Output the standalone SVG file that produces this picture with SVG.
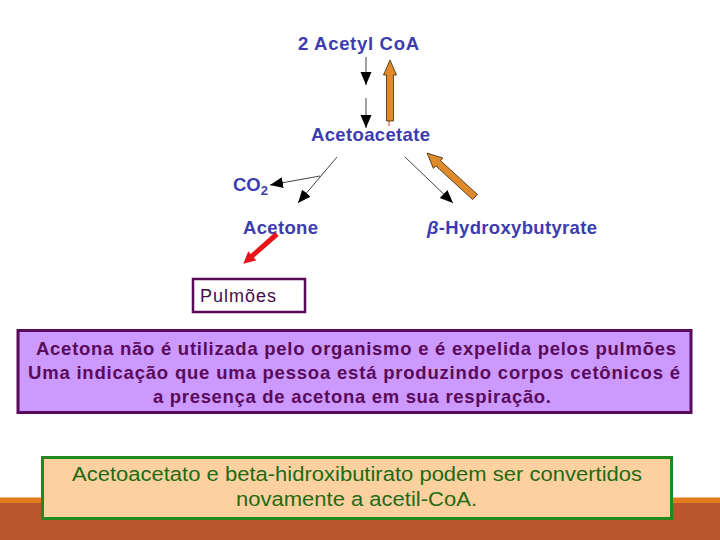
<svg xmlns="http://www.w3.org/2000/svg" width="720" height="540" viewBox="0 0 720 540">
<style>
.bl{font-family:"Liberation Sans",Arial,sans-serif;font-weight:bold;font-size:18.5px;fill:#3c3cb0}
.pt{font-family:"Liberation Sans",Arial,sans-serif;font-weight:bold;font-size:18.5px;fill:#5a0a5a}
.gt{font-family:"Liberation Sans",Arial,sans-serif;font-size:20.5px;fill:#1f6a12}
.thin{stroke:#444;stroke-width:1;fill:none;marker-end:url(#ah)}
.fat{fill:#e08a2a;stroke:#3a2a10;stroke-width:0.8}
</style>
<defs>
<marker id="ah" markerUnits="userSpaceOnUse" markerWidth="14" markerHeight="12" refX="13" refY="5.5" orient="auto">
<path d="M0,0 L13,5.5 L0,11 z" fill="#000"/>
</marker>
</defs>
<rect width="720" height="540" fill="#fff"/>
<rect x="0" y="497.5" width="720" height="6" fill="#e07c1c"/>
<rect x="0" y="503" width="720" height="37" fill="#b8562c"/>

<g id="acetylcoa"><text class="bl" x="298" y="50" textLength="121" lengthAdjust="spacing">2 Acetyl CoA</text></g>
<g id="acetoacetate"><text class="bl" x="311" y="141" textLength="119" lengthAdjust="spacing">Acetoacetate</text></g>
<g id="co2"><text class="bl" x="233" y="191" font-size="18.5">CO<tspan font-size="13" dy="4">2</tspan></text></g>
<g id="acetone"><text class="bl" x="243" y="234" textLength="75" lengthAdjust="spacing">Acetone</text></g>
<g id="hydroxybutyrate"><text class="bl" x="427" y="234" textLength="170" lengthAdjust="spacing"><tspan font-style="italic">β</tspan>-Hydroxybutyrate</text></g>

<g id="connectors">
<line class="thin" x1="366" y1="57" x2="366" y2="85"/>
<line class="thin" x1="366" y1="98" x2="366" y2="128"/>
<line class="thin" x1="337" y1="157" x2="298" y2="203"/>
<line class="thin" x1="320" y1="176" x2="270" y2="185"/>
<line class="thin" x1="405" y1="157" x2="453" y2="203"/>
<line x1="389" y1="120" x2="389" y2="126" stroke="#e03010" stroke-width="1"/>
<polygon class="fat" transform="translate(390,121) rotate(-90)" points="0,-3.5 46,-3.5 46,-6.5 61,0 46,6.5 46,3.5 0,3.5"/>
<polygon class="fat" transform="translate(475,197) rotate(222.5)" points="0,-3.5 50,-3.5 50,-7 65,0 50,7 50,3.5 0,3.5"/>
<polygon transform="translate(277,234) rotate(138.6)" points="0,-2.5 33,-2.5 33,-6 45,0 33,6 33,2.5 0,2.5" fill="#e8141a"/>
</g>

<g id="pulmoes">
<rect x="193" y="279" width="112" height="33" fill="#fff" stroke="#5a0a5a" stroke-width="2.5"/>
<text x="200" y="302" font-family="Liberation Sans,Arial,sans-serif" font-size="18" fill="#4a0a4a" textLength="76" lengthAdjust="spacing">Pulmões</text>
</g>

<g id="nota">
<rect x="18" y="330.5" width="673" height="82" fill="#cc99ff" stroke="#5a0a5a" stroke-width="3"/>
<text class="pt" x="36" y="355" textLength="640" lengthAdjust="spacing">Acetona não é utilizada pelo organismo e é expelida pelos pulmões</text>
<text class="pt" x="28" y="379" textLength="652" lengthAdjust="spacing">Uma indicação que uma pessoa está produzindo corpos cetônicos é</text>
<text class="pt" x="153" y="403" textLength="398" lengthAdjust="spacing">a presença de acetona em sua respiração.</text>
</g>

<g id="conversao">
<rect x="42.5" y="457.5" width="629" height="61" fill="#fdd0a0" stroke="#1f8a1f" stroke-width="3"/>
<text class="gt" x="72" y="481" textLength="570" lengthAdjust="spacingAndGlyphs">Acetoacetato e beta-hidroxibutirato podem ser convertidos</text>
<text class="gt" x="236" y="506" textLength="241" lengthAdjust="spacingAndGlyphs">novamente a acetil-CoA.</text>
</g>
</svg>
